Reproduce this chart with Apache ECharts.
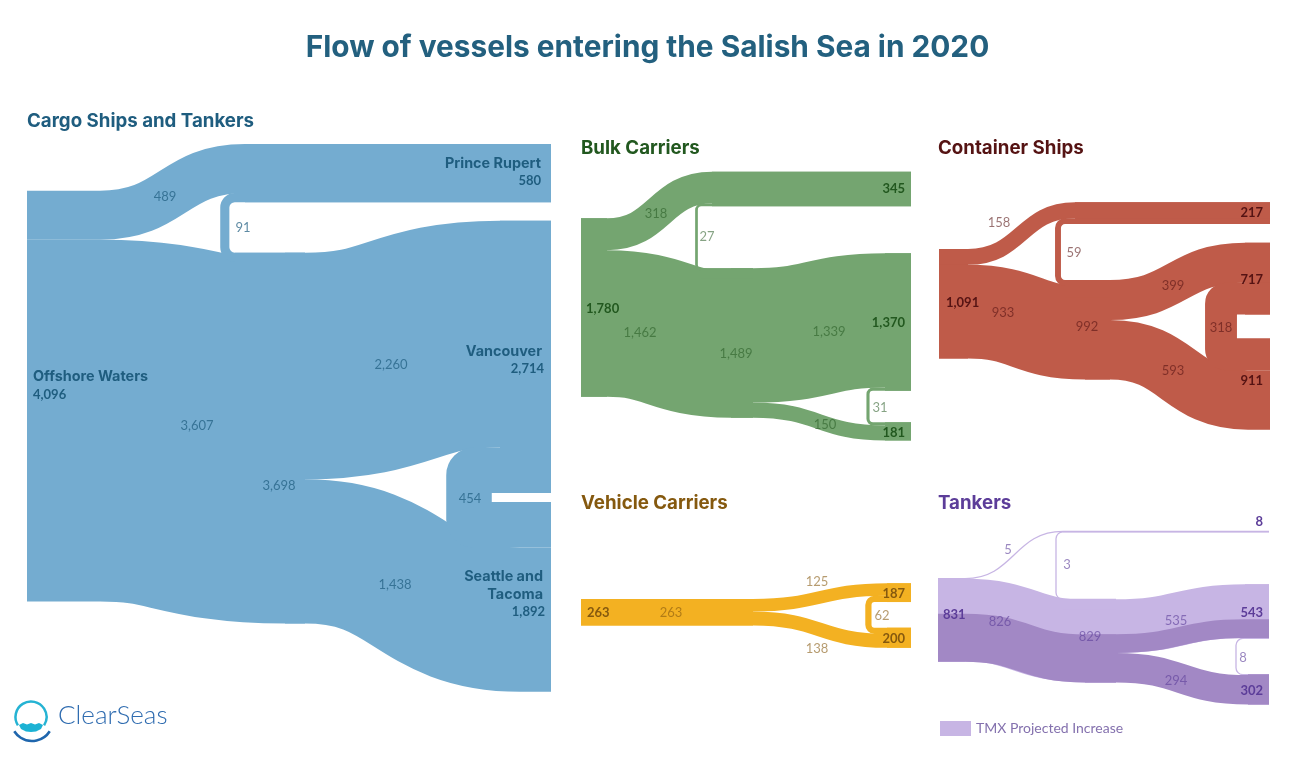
<!DOCTYPE html>
<html>
<head>
<meta charset="utf-8">
<title>Flow of vessels entering the Salish Sea in 2020</title>
<script src="https://cdn.jsdelivr.net/npm/echarts@6/dist/echarts.min.js"></script>
<style>
  html, body { margin: 0; padding: 0; background: #fff; }
  #chart { width: 1295px; height: 757px; }
</style>
</head>
<body>
<div id="chart"></div>
<script>
// node order per panel: origin, first port, junction (if any), then the other ports
const cargoNodeNames = ["Offshore Waters", "Prince Rupert", "", "Vancouver", "Seattle and\nTacoma"];
const cargoNodeTotals = [4096, 580, 3698, 2714, 1892];
const cargoLinkSources = [0, 0, 2, 2];
const cargoLinkTargets = [1, 2, 3, 4];
const cargoLinkValues = [489, 3607, 2260, 1438];
const cargoTransferFrom = [1, 3];
const cargoTransferTo = [2, 4];
const cargoTransferValues = [91, 454];

const bulkNodeTotals = [1780, 345, 1489, 1370, 181];
const bulkLinkSources = [0, 0, 2, 2];
const bulkLinkTargets = [1, 2, 3, 4];
const bulkLinkValues = [318, 1462, 1339, 150];
const bulkTransferFrom = [1, 3];
const bulkTransferTo = [2, 4];
const bulkTransferValues = [27, 31];

const containerNodeTotals = [1091, 217, 992, 717, 911];
const containerLinkSources = [0, 0, 2, 2];
const containerLinkTargets = [1, 2, 3, 4];
const containerLinkValues = [158, 933, 399, 593];
const containerTransferFrom = [1, 3];
const containerTransferTo = [2, 4];
const containerTransferValues = [59, 318];

const vehicleNodeTotals = [263, 187, 200];
const vehicleLinkSources = [0, 0];
const vehicleLinkTargets = [1, 2];
const vehicleLinkValues = [125, 138];
const vehicleTransferFrom = [1];
const vehicleTransferTo = [2];
const vehicleTransferValues = [62];

const tankerNodeTotals = [831, 8, 829, 543, 302];
const tankerLinkSources = [0, 0, 2, 2];
const tankerLinkTargets = [1, 2, 3, 4];
const tankerLinkValues = [5, 826, 535, 294];
const tankerTransferFrom = [1, 3];
const tankerTransferTo = [2, 4];
const tankerTransferValues = [3, 8];
// share of the 826 and 535 flows that is the projected TMX increase
const tankerTmxIncrease = 348;

const FONT = "Lato, 'Noto Sans', sans-serif";
const HEAD_FONT = "Inter, Lato, sans-serif";
const PX_PER_VESSEL = 0.1003;
const toVessels = (px) => px / PX_PER_VESSEL;

const panels = [
  {
    title: "Cargo Ships and Tankers", titleTop: 112, titleLeft: 27,
    grid: { left: 27, top: 144, width: 524, height: 548 },
    color: "#74acd0", dark: "#1f5d7f", flowText: "rgba(31,93,127,0.72)",
    names: cargoNodeNames, totals: cargoNodeTotals,
    linkSources: cargoLinkSources, linkTargets: cargoLinkTargets, linkValues: cargoLinkValues,
    transferFrom: cargoTransferFrom, transferTo: cargoTransferTo, transferValues: cargoTransferValues,
    noCover: [0, 2, 4],
    nodes: [
      { x0: 27, x1: 100, y: 190.7 },
      { x0: 245, x1: 551, y: 144 },
      { x0: 285, x1: 305, y: 252.7 },
      { x0: 500, x1: 551, y: 220.7 },
      { x0: 520, x1: 551, y: 502 },
    ],
    transfers: [{ x: 224.8, r: 10, filler: true }, { x: 469, r: 5 }],
    linkLabels: [[165, 196], [197, 425], [391, 364], [395, 584]],
    transferLabels: [[243, 227], [470, 498]],
    totalLabels: [[33, 394, "left"], [541, 180, "right"], [279, 485, "flow"], [544, 368, "right"], [545, 611, "right"]],
    nameLabels: [[33, 375, "left"], [541, 162, "right"], null, [542, 350, "right"], [543, 584, "right"]],
  },
  {
    title: "Bulk Carriers", titleTop: 139, titleLeft: 581,
    grid: { left: 581, top: 172, width: 330, height: 270 },
    color: "#74a570", dark: "#22581f", flowText: "rgba(34,88,31,0.55)",
    totals: bulkNodeTotals,
    linkSources: bulkLinkSources, linkTargets: bulkLinkTargets, linkValues: bulkLinkValues,
    transferFrom: bulkTransferFrom, transferTo: bulkTransferTo, transferValues: bulkTransferValues,
    noCover: [2],
    nodes: [
      { x0: 581, x1: 607, y: 218.3 },
      { x0: 712, x1: 911, y: 171.7 },
      { x0: 731, x1: 753, y: 268.3 },
      { x0: 885, x1: 911, y: 253.3 },
      { x0: 885, x1: 911, y: 422.3 },
    ],
    transfers: [{ x: 696.5, r: 5, filler: true }, { x: 868, r: 5 }],
    linkLabels: [[656, 213], [640, 332], [829, 331], [825, 424]],
    transferLabels: [[707, 236], [880, 407]],
    totalLabels: [[586, 308, "left"], [905, 188, "right"], [736, 353, "flow"], [905, 322, "right"], [905, 432, "right"]],
  },
  {
    title: "Container Ships", titleTop: 139, titleLeft: 938,
    grid: { left: 939, top: 202, width: 331, height: 230 },
    color: "#bf5b49", dark: "#551313", flowText: "rgba(85,19,19,0.6)",
    totals: containerNodeTotals,
    linkSources: containerLinkSources, linkTargets: containerLinkTargets, linkValues: containerLinkValues,
    transferFrom: containerTransferFrom, transferTo: containerTransferTo, transferValues: containerTransferValues,
    noCover: [2, 4],
    nodes: [
      { x0: 939, x1: 968, y: 249 },
      { x0: 1075, x1: 1270, y: 202.3 },
      { x0: 1085, x1: 1110, y: 280 },
      { x0: 1245, x1: 1270, y: 242.7 },
      { x0: 1248, x1: 1270, y: 338.3 },
    ],
    transfers: [{ x: 1058, r: 7, filler: true }, { x: 1221, r: 5 }],
    linkLabels: [[999, 222], [1003, 312], [1173, 285], [1173, 370]],
    transferLabels: [[1074, 252], [1221, 327]],
    totalLabels: [[946, 302, "left"], [1263, 212, "right"], [1087, 326, "flow"], [1263, 279, "right"], [1263, 380, "right"]],
  },
  {
    title: "Vehicle Carriers", titleTop: 494, titleLeft: 581,
    grid: { left: 581, top: 583, width: 330, height: 65 },
    color: "#f3b122", dark: "#85590f", flowText: "rgba(133,89,15,0.6)",
    totals: vehicleNodeTotals,
    linkSources: vehicleLinkSources, linkTargets: vehicleLinkTargets, linkValues: vehicleLinkValues,
    transferFrom: vehicleTransferFrom, transferTo: vehicleTransferTo, transferValues: vehicleTransferValues,
    noCover: [],
    nodes: [
      { x0: 581, x1: 753, y: 599 },
      { x0: 887, x1: 911, y: 583.3 },
      { x0: 887, x1: 911, y: 627.7 },
    ],
    transfers: [{ x: 868.4, r: 6 }],
    linkLabels: [[817, 581], [817, 648]],
    transferLabels: [[882, 615]],
    totalLabels: [[587, 612, "left"], [905, 593, "right"], [905, 638, "right"]],
    extraFlowLabels: [[671, 612, 263]],
  },
  {
    title: "Tankers", titleTop: 494, titleLeft: 938,
    grid: { left: 938, top: 531, width: 331, height: 175 },
    color: "#c7b5e4", dark: "#5c3d99", flowText: "rgba(92,61,153,0.62)",
    name: "TMX Projected Increase",
    overlay: { color: "#a288c5", inset: tankerTmxIncrease, links: [1, 2], solid: [3], solidNodes: [4] },
    totals: tankerNodeTotals,
    linkSources: tankerLinkSources, linkTargets: tankerLinkTargets, linkValues: tankerLinkValues,
    transferFrom: tankerTransferFrom, transferTo: tankerTransferTo, transferValues: tankerTransferValues,
    noCover: [2],
    nodes: [
      { x0: 938, x1: 965, y: 578.3 },
      { x0: 1063, x1: 1269, y: 531.2 },
      { x0: 1085, x1: 1116, y: 599.3 },
      { x0: 1245, x1: 1269, y: 584.3 },
      { x0: 1248, x1: 1269, y: 674.3 },
    ],
    transfers: [{ x: 1056, r: 7, filler: true }, { x: 1236, r: 7 }],
    linkLabels: [[1008, 549], [1000, 621], [1176, 620], [1176, 680]],
    transferLabels: [[1067, 564], [1243, 657]],
    totalLabels: [[943, 614, "left"], [1263, 521, "right"], [1090, 636, "flow"], [1263, 612, "right"], [1263, 690, "right"]],
  },
];

const fmt = (v) => v.toLocaleString("en-US");

function linkPath(x0, x1, ya, x2, x3, yb) {
  const mx = (x1 + x2) / 2;
  return [["M", x0, ya], ["L", x1, ya], ["C", mx, ya, mx, yb, x2, yb], ["L", x3, yb]];
}

function transferPath(endA, yA, x, r, yB, endB) {
  const k = r * 0.55;
  const ry = toVessels(r);
  const ky = toVessels(k);
  return [
    ["M", endA, yA], ["L", x + r, yA],
    ["C", x + r - k, yA, x, yA + ry - ky, x, yA + ry],
    ["L", x, yB - ry],
    ["C", x, yB - ry + ky, x + r - k, yB, x + r, yB],
    ["L", endB, yB],
  ];
}

// stacks the flows in their nodes, the way a sankey does, and returns stroked bands
function routeBands(p) {
  const bands = [];
  const inY = p.nodes.map((n) => toVessels(n.y));
  const outY = inY.slice();
  const ov = p.overlay;
  // the node's whole total, so thin seams between stacked flows don't show
  p.nodes.forEach((n, i) => {
    if (p.noCover.includes(i)) return;
    const v = p.totals[i];
    const y = inY[i] + v / 2;
    const tone = ov && ov.solidNodes.includes(i) ? 1 : 0;
    bands.push({ tone, value: v, cmds: [["M", n.x0, y], ["L", n.x1, y]] });
  });
  const toY = p.transferTo.map((t, i) => {
    const y = inY[t];
    inY[t] += p.transferValues[i];
    return y;
  });
  p.linkValues.forEach((v, i) => {
    const s = p.nodes[p.linkSources[i]];
    const t = p.nodes[p.linkTargets[i]];
    const ya = outY[p.linkSources[i]];
    const yb = inY[p.linkTargets[i]];
    outY[p.linkSources[i]] += v;
    inY[p.linkTargets[i]] += v;
    if (ov && ov.solid.includes(i)) {
      bands.push({ tone: 1, value: v, cmds: linkPath(s.x0, s.x1, ya + v / 2, t.x0, t.x1, yb + v / 2) });
      return;
    }
    bands.push({ tone: 0, value: v, cmds: linkPath(s.x0, s.x1, ya + v / 2, t.x0, t.x1, yb + v / 2) });
    if (ov && ov.links.includes(i)) {
      const rest = v - ov.inset;
      const off = ov.inset + rest / 2;
      bands.push({ tone: 1, value: rest, cmds: linkPath(s.x0, s.x1, ya + off, t.x0, t.x1, yb + off) });
    }
  });
  p.transferValues.forEach((v, i) => {
    const from = p.nodes[p.transferFrom[i]];
    const to = p.nodes[p.transferTo[i]];
    const tr = p.transfers[i];
    const yA = inY[p.transferFrom[i]] + v / 2;
    inY[p.transferFrom[i]] += v;
    const yB = toY[i] + v / 2;
    bands.push({ tone: 0, value: v, cmds: transferPath(from.x1, yA, tr.x, tr.r, yB, to.x1) });
    if (tr.filler) {
      // closes the notch under the arriving transfer before the curved link has levelled off
      const h = Math.max(v * 3, 100);
      const y = toY[i] + h / 2;
      bands.push({ tone: 0, value: h, cmds: [["M", tr.x + tr.r, y], ["L", to.x1, y]] });
    }
  });
  return bands;
}

function panelLabels(p) {
  const out = [];
  p.linkValues.forEach((v, i) => {
    out.push({ text: fmt(v), pos: p.linkLabels[i], align: "center", size: 13, weight: 400, fill: p.flowText });
  });
  p.transferValues.forEach((v, i) => {
    out.push({ text: fmt(v), pos: p.transferLabels[i], align: "center", size: 13, weight: 400, fill: p.flowText });
  });
  (p.extraFlowLabels || []).forEach((e) => {
    out.push({ text: fmt(e[2]), pos: e, align: "center", size: 13, weight: 400, fill: p.flowText });
  });
  p.totals.forEach((v, i) => {
    const pos = p.totalLabels[i];
    if (pos[2] === "flow") {
      out.push({ text: fmt(v), pos, align: "center", size: 13, weight: 400, fill: p.flowText });
    } else {
      out.push({ text: fmt(v), pos, align: pos[2], size: 13, weight: 700, fill: p.dark });
    }
  });
  (p.names || []).forEach((name, i) => {
    const pos = p.nameLabels[i];
    if (pos) out.push({ text: name, pos, align: pos[2], size: 14.4, weight: 700, fill: p.dark, lineHeight: 18, head: true });
  });
  return out;
}

function bandSeries(i, name, color, bands, z) {
  return {
    type: "custom",
    name,
    xAxisIndex: i,
    yAxisIndex: i,
    silent: true,
    animation: false,
    z,
    itemStyle: { color },
    data: bands.map((b, idx) => [idx, b.value]),
    renderItem(params, api) {
      const b = bands[params.dataIndex];
      const d = b.cmds.map((c) => {
        const pts = [];
        for (let j = 1; j < c.length; j += 2) {
          const pt = api.coord([c[j], c[j + 1]]);
          pts.push(pt[0].toFixed(2), pt[1].toFixed(2));
        }
        return c[0] + pts.join(" ");
      }).join(" ");
      const width = Math.max(1.3, api.size([0, api.value(1)])[1]);
      return {
        type: "path",
        shape: { pathData: d },
        style: { fill: "none", stroke: color, lineWidth: width },
      };
    },
  };
}

function labelSeries(i, labels) {
  return {
    type: "custom",
    xAxisIndex: i,
    yAxisIndex: i,
    silent: true,
    animation: false,
    z: 20,
    data: labels.map((l, idx) => [idx, 0]),
    renderItem(params, api) {
      const l = labels[params.dataIndex];
      const pt = api.coord([l.pos[0], toVessels(l.pos[1])]);
      return {
        type: "text",
        x: pt[0],
        y: pt[1] + (l.head ? 2 : 1),
        style: {
          text: l.text,
          fill: l.fill,
          font: l.weight + " " + l.size + "px " + (l.head ? HEAD_FONT : FONT),
          lineHeight: l.lineHeight,
          textAlign: l.align,
          textVerticalAlign: "middle",
        },
      };
    },
  };
}

const series = [];
panels.forEach((p, i) => {
  const bands = routeBands(p);
  series.push(bandSeries(i, p.name || p.title, p.color, bands.filter((b) => b.tone === 0), 5));
  if (p.overlay) {
    series.push(bandSeries(i, p.title, p.overlay.color, bands.filter((b) => b.tone === 1), 6));
  }
  series.push(labelSeries(i, panelLabels(p)));
});

const option = {
  backgroundColor: "#fff",
  animation: false,
  title: [
    {
      text: "Flow of vessels entering the Salish Sea in 2020",
      left: "center",
      top: 33,
      padding: 0,
      textStyle: { fontFamily: HEAD_FONT, fontSize: 29.8, fontWeight: 700, color: "#23607f" },
    },
  ].concat(panels.map((p) => ({
    text: p.title,
    left: p.titleLeft,
    top: p.titleTop,
    padding: 0,
    textStyle: { fontFamily: HEAD_FONT, fontSize: 18.7, fontWeight: 700, color: p.dark },
  }))),
  legend: {
    data: ["TMX Projected Increase"],
    left: 940,
    top: 721,
    padding: 0,
    icon: "rect",
    itemWidth: 31,
    itemHeight: 15,
    selectedMode: false,
    textStyle: { fontFamily: FONT, fontSize: 14, color: "#8471ae" },
  },
  grid: panels.map((p) => Object.assign({ containLabel: false }, p.grid)),
  xAxis: panels.map((p, i) => ({
    type: "value", gridIndex: i, show: false,
    min: p.grid.left, max: p.grid.left + p.grid.width,
  })),
  yAxis: panels.map((p, i) => ({
    type: "value", gridIndex: i, show: false, inverse: true,
    min: toVessels(p.grid.top), max: toVessels(p.grid.top + p.grid.height),
  })),
  series,
  // Clear Seas logo
  graphic: [
    { type: "arc", shape: { cx: 31, cy: 717, r: 15.5, startAngle: Math.PI * 0.82, endAngle: Math.PI * 0.18 },
      style: { fill: "none", stroke: "#25b3d3", lineWidth: 2.5 } },
    { type: "polygon",
      shape: { points: [[19, 725], [23, 723], [27, 724.5], [31, 723], [35, 724.5], [39, 723], [43, 725], [41, 729], [36, 731.5], [31, 732], [26, 731.5], [21, 729]] },
      style: { fill: "#1cb2d4" } },
    { type: "arc", shape: { cx: 32, cy: 720, r: 21, startAngle: Math.PI * 0.18, endAngle: Math.PI * 0.82 },
      style: { fill: "none", stroke: "#1f66ad", lineWidth: 2.6 } },
    { type: "text", left: 58, top: 703,
      style: { text: "ClearSeas", font: "300 26px " + FONT, fill: "#2f6cb0" } },
  ],
};

const chart = echarts.init(document.getElementById("chart"));
chart.setOption(option);
window.addEventListener("resize", () => {
  chart.resize();
});
</script>
</body>
</html>
